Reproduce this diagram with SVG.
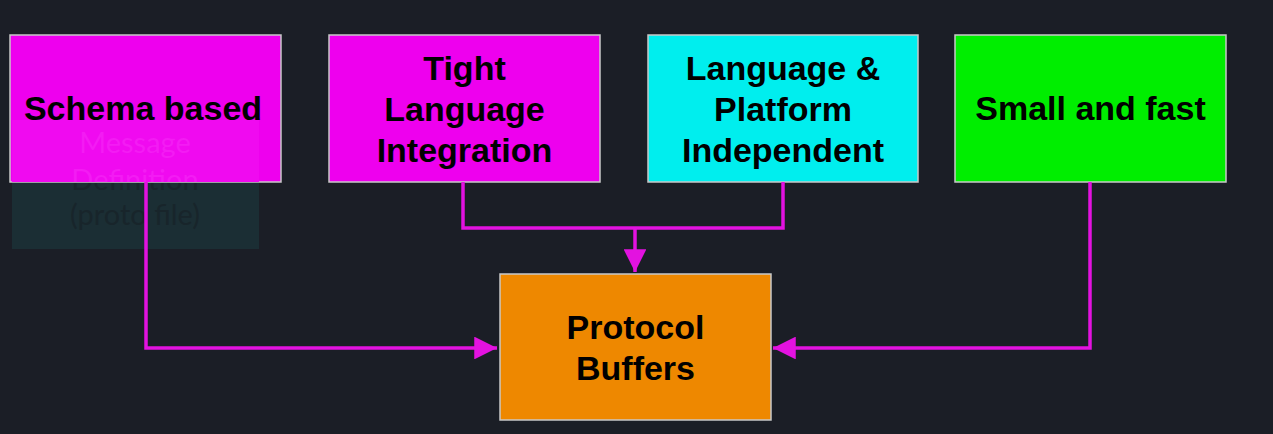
<svg xmlns="http://www.w3.org/2000/svg" width="1273" height="434" viewBox="0 0 1273 434">
<defs>
<style>
.box{stroke:#c9c9c9;stroke-width:1.5}
.lbl{font-family:"Liberation Sans",Arial,sans-serif;font-weight:bold;font-size:34px;fill:#000;text-anchor:middle}
.faint{font-family:Lato,"Liberation Sans",sans-serif;font-size:29px;text-anchor:middle}
.conn{fill:none;stroke:#e312e0;stroke-width:3.5;stroke-linejoin:miter}
</style>
<marker id="arr" viewBox="0 0 10 10" refX="10" refY="5" markerWidth="7.5" markerHeight="6.5" markerUnits="strokeWidth" orient="auto">
<path d="M0,0 L10,5 L0,10 z" fill="#e312e0"/>
</marker>
<clipPath id="c1"><rect x="10" y="35" width="271" height="147"/></clipPath>
</defs>
<rect width="1273" height="434" fill="#1b1e26"/>
<g id="message-definition">
<rect x="12" y="120" width="247" height="129" fill="#1b2e34"/>
<text class="faint" fill="#18252b"><tspan x="135" y="153">Message</tspan><tspan x="135" y="190">Definition</tspan><tspan x="135" y="225">(proto file)</tspan></text>
</g>
<g id="schema-based">
<rect class="box" x="10" y="35" width="271" height="147" fill="#ee00ee"/>
<g clip-path="url(#c1)">
<rect x="12" y="120" width="247" height="129" fill="#f00af0"/>
<text class="faint" fill="#f31cf3"><tspan x="135" y="153">Message</tspan><tspan x="135" y="190">Definition</tspan></text>
</g>
<text class="lbl" x="143" y="120">Schema based</text>
</g>
<g id="tight-language">
<rect class="box" x="329" y="35" width="271" height="147" fill="#ee00ee"/>
<text class="lbl"><tspan x="464.5" y="80">Tight</tspan><tspan x="464.5" y="121">Language</tspan><tspan x="464.5" y="162">Integration</tspan></text>
</g>
<g id="platform-independent">
<rect class="box" x="648" y="35" width="270" height="147" fill="#00eeee"/>
<text class="lbl"><tspan x="783" y="80">Language &amp;</tspan><tspan x="783" y="121">Platform</tspan><tspan x="783" y="162">Independent</tspan></text>
</g>
<g id="small-fast">
<rect class="box" x="955" y="35" width="271" height="147" fill="#00ee00"/>
<text class="lbl" x="1090.5" y="120">Small and fast</text>
</g>
<g id="protocol-buffers">
<rect class="box" x="500" y="274" width="271" height="146" fill="#ee8800"/>
<text class="lbl"><tspan x="635.5" y="339">Protocol</tspan><tspan x="635.5" y="380">Buffers</tspan></text>
</g>
<g id="connectors">
<path class="conn" d="M146,182 V348 H497" marker-end="url(#arr)"/>
<path class="conn" d="M1090,182 V348 H773" marker-end="url(#arr)"/>
<path class="conn" d="M463,182 V228 H783 V182"/>
<path class="conn" d="M635,228 V272" marker-end="url(#arr)"/>
</g>
</svg>
